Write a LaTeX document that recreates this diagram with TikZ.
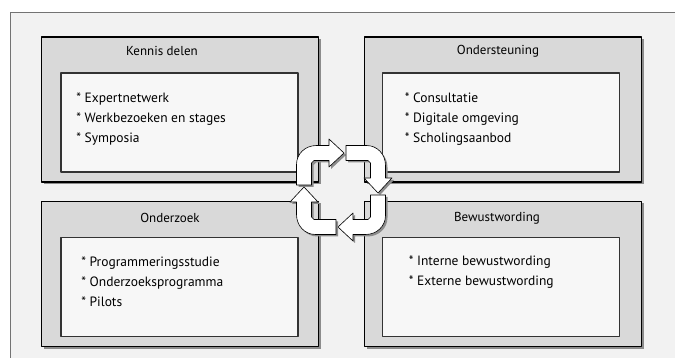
\documentclass[tikz,border=0pt]{standalone}
\usepackage{fontspec}
\setmainfont{PT Sans}
\usetikzlibrary{positioning}
\usetikzlibrary{shadows}

\definecolor{pagegray}{HTML}{F2F2F2}
\definecolor{boxgray}{HTML}{D9D9D9}
\definecolor{innergray}{HTML}{F7F7F7}
\definecolor{shadegray}{HTML}{8C8C8C}

\tikzset{
  outerbox/.style={draw=black,line width=1.4pt,fill=boxgray,minimum width=277pt,
    minimum height=145pt,inner sep=0pt,
    drop shadow={opacity=1,fill=shadegray,shadow xshift=2pt,shadow yshift=-2pt}},
  innerbox/.style={draw=black!80,line width=1.8pt,fill=innergray,minimum width=237pt,
    minimum height=99pt,inner sep=0pt},
  titletext/.style={font=\fontsize{13}{15}\selectfont,inner sep=0pt},
  itemtext/.style={font=\fontsize{13.5}{20}\selectfont,align=left,anchor=north west,inner sep=0pt},
  cyclearrow/.pic={
    \path[pic actions](-44.5,-5)--(-44.5,-25.5)
      .. controls (-44.5,-36.5) and (-35.5,-44.5) .. (-24.5,-44.5)
      --(-12,-44.5)--(-12,-51)--(3,-37)--(-12,-23)--(-12,-29.5)--(-27,-29.5)
      --(-29.5,-27)--(-29.5,-5)--cycle;
  }
}

\begin{document}
\begin{tikzpicture}[x=1pt,y=-1pt,line join=round]
\useasboundingbox (0,0) rectangle (675,358);
\fill[pagegray](10,12) rectangle (675,358);
\draw[black!55,line width=0.8pt](10,358)--(10,12)--(675,12);

% four boxes
\node[outerbox] (kennis) at (180,109.5) {};
\node[outerbox] (steun) at (503,109.5) {};
\node[outerbox] (onderzoek) at (180,274) {};
\node[outerbox] (bewust) at (503,274) {};

\node[innerbox] (kennisin) at (179.5,122.5) {};
\node[innerbox] (steunin) at (501,122.5) {};
\node[innerbox] (onderzoekin) at (179.5,287) {};
\node[innerbox] (bewustin) at (501,287) {};

\node[titletext] (kennistitle) at ([xshift=-18pt,yshift=-15pt]kennis.north) {Kennis delen};
\node[titletext] (steuntitle) at ([xshift=-5pt,yshift=-15pt]steun.north) {Ondersteuning};
\node[titletext] (onderzoektitle) at ([xshift=-10pt,yshift=-17pt]onderzoek.north) {Onderzoek};
\node[titletext] (bewusttitle) at ([xshift=-6pt,yshift=-17pt]bewust.north) {Bewustwording};

\node[itemtext] (kennisitems) at ([xshift=16pt,yshift=-21pt]kennisin.north west)
  {* Expertnetwerk\\* Werkbezoeken en stages\\* Symposia};
\node[itemtext] (steunitems) at ([xshift=23pt,yshift=-21pt]steunin.north west)
  {* Consultatie\\* Digitale omgeving\\* Scholingsaanbod};
\node[itemtext] (onderzoekitems) at ([xshift=21pt,yshift=-20pt]onderzoekin.north west)
  {* Programmeringsstudie\\* Onderzoeksprogramma\\* Pilots};
\node[itemtext] (bewustitems) at ([xshift=27pt,yshift=-19pt]bewustin.north west)
  {* Interne bewustwording\\* Externe bewustwording};

% cycle of arrows
\foreach \r in {0,-90,-180,-270}{
  \pic[fill=shadegray,rotate=\r] at (343,192) {cyclearrow};
  \pic[draw=black,fill=white,line width=0.6pt,rotate=\r] at (341,190) {cyclearrow};
}
\end{tikzpicture}
\end{document}
